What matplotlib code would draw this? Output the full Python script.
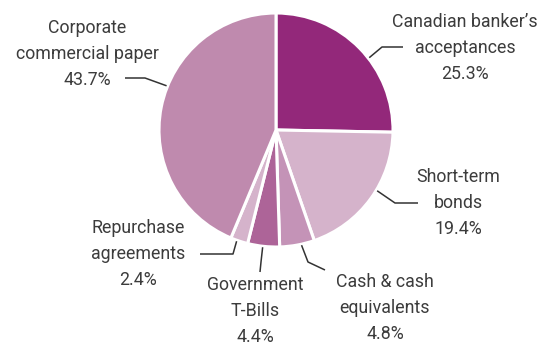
import numpy as np
import matplotlib.pyplot as plt

# Portfolio breakdown, clockwise from 12 o'clock
labels = [
    "Canadian banker\u2019s\nacceptances",
    "Short-term\nbonds",
    "Cash & cash\nequivalents",
    "Government\nT-Bills",
    "Repurchase\nagreements",
    "Corporate\ncommercial paper",
]
shares = [25.3, 19.4, 4.8, 4.4, 2.4, 43.7]
colors = ["#93287a", "#d5b3cb", "#c493b7", "#ad6498", "#d5b3cb", "#bf8aae"]

W, H = 547, 345
CX, CY, R = 276, H - 130, 117

# label layout in pixel units (y measured from top): leader angle on rim,
# elbow point, end point, text centre
leaders = [
    (37.8, (382, 47), (403, 47), (465, 48)),
    (-31.0, (395, 203), (418, 203), (458, 203)),
    (-77.5, (308, 262), (325, 270), (385, 308)),
    (-96.5, (261, 262), (260, 272), (255, 311)),
    (-109.5, (233, 254), (200, 254), (138, 254)),
    (158.0, (145, 78), (125, 78), (87, 54)),
]

plt.rcParams["font.family"] = ["Roboto", "DejaVu Sans"]

fig = plt.figure(figsize=(W / 100, H / 100), dpi=100)
ax = fig.add_axes([0, 0, 1, 1])
ax.axis("off")

ax.pie(shares, colors=colors, startangle=90, counterclock=False,
       center=(CX, CY), radius=R,
       wedgeprops=dict(edgecolor="white", linewidth=2.2))
ax.set_xlim(0, W)
ax.set_ylim(0, H)
ax.set_aspect("equal")

for lab, val, (ang, elbow, end, txt) in zip(labels, shares, leaders):
    a = np.radians(ang)
    x0, y0 = CX + (R + 1) * np.cos(a), CY + (R + 1) * np.sin(a)
    xs = [x0, elbow[0], end[0]]
    ys = [y0, H - elbow[1], H - end[1]]
    ax.plot(xs, ys, color="#333333", lw=1.1, solid_capstyle="butt")
    ax.text(txt[0], H - txt[1], f"{lab}\n{val}%", ha="center", va="center",
            fontsize=12.8, color="#3c3c3c", linespacing=1.55)

fig.savefig("out.png", dpi=100)
